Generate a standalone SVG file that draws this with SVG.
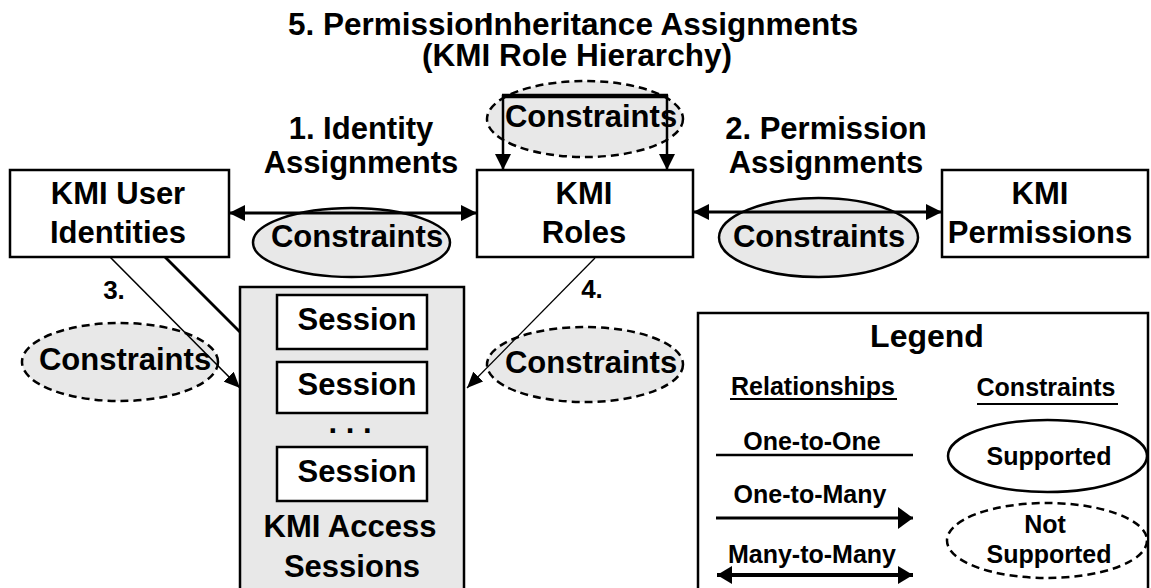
<svg xmlns="http://www.w3.org/2000/svg" width="1151" height="588" viewBox="0 0 1151 588">
  <defs>
    <style>
      text { font-family: "Liberation Sans", Arial, sans-serif; font-weight: bold; fill: #000; text-anchor: middle; }
      .t32 { font-size: 32px; }
      .tt { font-size: 31.5px; }
      .t31 { font-size: 31px; }
      .t26 { font-size: 26px; }
      .t25 { font-size: 25px; }
      .box { fill: #fff; stroke: #000; stroke-width: 2.5; }
      .grey { fill: #e8e8e8; stroke: #000; stroke-width: 2.5; }
      .sup { fill: #e8e8e8; stroke: #000; stroke-width: 2.5; }
      .nsup { fill: #e8e8e8; stroke: #000; stroke-width: 2.5; stroke-dasharray: 8 5; }
      .wsup { fill: #fff; stroke: #000; stroke-width: 2.5; }
      .wnsup { fill: #fff; stroke: #000; stroke-width: 2.5; stroke-dasharray: 8 5; }
      .ln { fill: none; stroke: #000; }
    </style>
    <marker id="ah" viewBox="0 0 16 16" refX="16" refY="8" markerWidth="16" markerHeight="16" markerUnits="userSpaceOnUse" orient="auto-start-reverse">
      <path d="M0,0 L16,8 L0,16 Z" fill="#000"/>
    </marker>
    <marker id="ahThin" viewBox="0 0 16 14" refX="16" refY="7" markerWidth="16" markerHeight="14" markerUnits="userSpaceOnUse" orient="auto-start-reverse">
      <path d="M0,0 L16,7 L0,14 Z" fill="#000"/>
    </marker>
    <marker id="ahWide" viewBox="0 0 15 22" refX="15" refY="11" markerWidth="15" markerHeight="22" markerUnits="userSpaceOnUse" orient="auto-start-reverse">
      <path d="M0,0 L15,11 L0,22 Z" fill="#000"/>
    </marker>
    <marker id="ahMid" viewBox="0 0 15 18" refX="15" refY="9" markerWidth="15" markerHeight="18" markerUnits="userSpaceOnUse" orient="auto-start-reverse">
      <path d="M0,0 L15,9 L0,18 Z" fill="#000"/>
    </marker>
  </defs>

  <rect width="1151" height="588" fill="#fff"/>

  <!-- title of the role hierarchy relationship (second word set tight against the first) -->
  <g id="title">
    <text class="tt" x="288" y="35" style="text-anchor:start">5. Permission<tspan dx="-8">Inheritance Assignments</tspan></text>
    <text class="tt" x="577" y="66">(KMI Role Hierarchy)</text>
  </g>

  <!-- relationship labels -->
  <g id="labels">
    <text class="t31" x="361" y="139">1. Identity</text>
    <text class="t31" x="361" y="173">Assignments</text>
    <text class="t31" x="826" y="139">2. Permission</text>
    <text class="t31" x="826" y="173">Assignments</text>
    <text class="t26" x="114" y="299">3.</text>
    <text class="t26" x="592" y="298">4.</text>
  </g>

  <!-- constraint ellipses -->
  <g id="constraint-hierarchy">
    <ellipse class="nsup" cx="585" cy="119" rx="98" ry="38"/>
    <text class="t31" x="591" y="127">Constraints</text>
  </g>
  <g id="constraint-identity">
    <ellipse class="sup" cx="351.5" cy="242.5" rx="98.5" ry="34.5"/>
    <text class="t31" x="357" y="247">Constraints</text>
  </g>
  <g id="constraint-permission">
    <ellipse class="sup" cx="818.5" cy="237.5" rx="99.5" ry="39.5"/>
    <text class="t31" x="819" y="247">Constraints</text>
  </g>
  <g id="constraint-user-session">
    <ellipse class="nsup" cx="120" cy="362" rx="98" ry="39"/>
    <text class="t31" x="125" y="370">Constraints</text>
  </g>
  <g id="constraint-role-session">
    <ellipse class="nsup" cx="585" cy="364.5" rx="98" ry="37.5"/>
    <text class="t31" x="591" y="373">Constraints</text>
  </g>

  <!-- nodes -->
  <g id="user-identities">
    <rect class="box" x="10" y="170" width="219" height="87"/>
    <text class="t31" x="118" y="204">KMI User</text>
    <text class="t31" x="118" y="243">Identities</text>
  </g>
  <g id="roles">
    <rect class="box" x="477" y="170" width="216" height="87"/>
    <text class="t31" x="584" y="204">KMI</text>
    <text class="t31" x="584" y="243">Roles</text>
  </g>
  <g id="permissions">
    <rect class="box" x="942" y="170" width="206" height="87"/>
    <text class="t31" x="1040" y="204">KMI</text>
    <text class="t31" x="1040" y="243">Permissions</text>
  </g>
  <g id="access-sessions">
    <rect class="grey" x="240" y="287" width="224" height="320"/>
    <rect class="box" x="277" y="295" width="150" height="54"/>
    <text class="t31" x="357" y="330">Session</text>
    <rect class="box" x="277" y="362" width="150" height="51"/>
    <text class="t31" x="357" y="395">Session</text>
    <text class="t31" x="350" y="433">. . .</text>
    <rect class="box" x="277" y="447" width="150" height="54"/>
    <text class="t31" x="357" y="482">Session</text>
    <text class="t31" x="350" y="537">KMI Access</text>
    <text class="t31" x="352" y="577">Sessions</text>
  </g>

  <!-- connectors -->
  <g id="connectors">
    <line class="ln" x1="229" y1="213" x2="477" y2="213" stroke-width="3" marker-start="url(#ah)" marker-end="url(#ah)"/>
    <line class="ln" x1="693" y1="212" x2="942" y2="212" stroke-width="3" marker-start="url(#ah)" marker-end="url(#ah)"/>
    <g id="hierarchy-link">
      <path class="ln" d="M503,170 V96 H667 V170" stroke-width="2.5" marker-start="url(#ah)" marker-end="url(#ah)"/>
      <line class="ln" x1="502" y1="96" x2="668" y2="96" stroke-width="4.5"/>
    </g>
    <line class="ln" x1="110" y1="257" x2="240" y2="388" stroke-width="1.6" marker-end="url(#ahThin)"/>
    <line class="ln" x1="165" y1="257" x2="240" y2="332" stroke-width="2.8"/>
    <line class="ln" x1="595" y1="258" x2="467" y2="388" stroke-width="1.3" marker-end="url(#ahThin)"/>
  </g>

  <!-- legend -->
  <g id="legend">
    <rect class="box" x="698" y="313" width="450" height="300"/>
    <text class="t32" x="927" y="347">Legend</text>
    <text class="t25" x="813" y="395">Relationships</text>
    <line class="ln" x1="730" y1="399" x2="897" y2="399" stroke-width="2"/>
    <text class="t25" x="1046" y="396">Constraints</text>
    <line class="ln" x1="977" y1="404" x2="1118" y2="404" stroke-width="2"/>
    <text class="t25" x="812" y="450">One-to-One</text>
    <line class="ln" x1="716" y1="455" x2="913" y2="455" stroke-width="2.5"/>
    <text class="t25" x="810" y="503">One-to-Many</text>
    <line class="ln" x1="716" y1="518" x2="913" y2="518" stroke-width="3" marker-end="url(#ahWide)"/>
    <text class="t25" x="812" y="563">Many-to-Many</text>
    <line class="ln" x1="717" y1="575" x2="913" y2="575" stroke-width="4" marker-start="url(#ahMid)" marker-end="url(#ahMid)"/>
    <ellipse class="wsup" cx="1047.5" cy="456" rx="99.5" ry="36"/>
    <text class="t25" x="1049" y="465">Supported</text>
    <ellipse class="wnsup" cx="1047" cy="540.5" rx="100" ry="37.5"/>
    <text class="t25" x="1045" y="533">Not</text>
    <text class="t25" x="1049" y="563">Supported</text>
  </g>
</svg>
